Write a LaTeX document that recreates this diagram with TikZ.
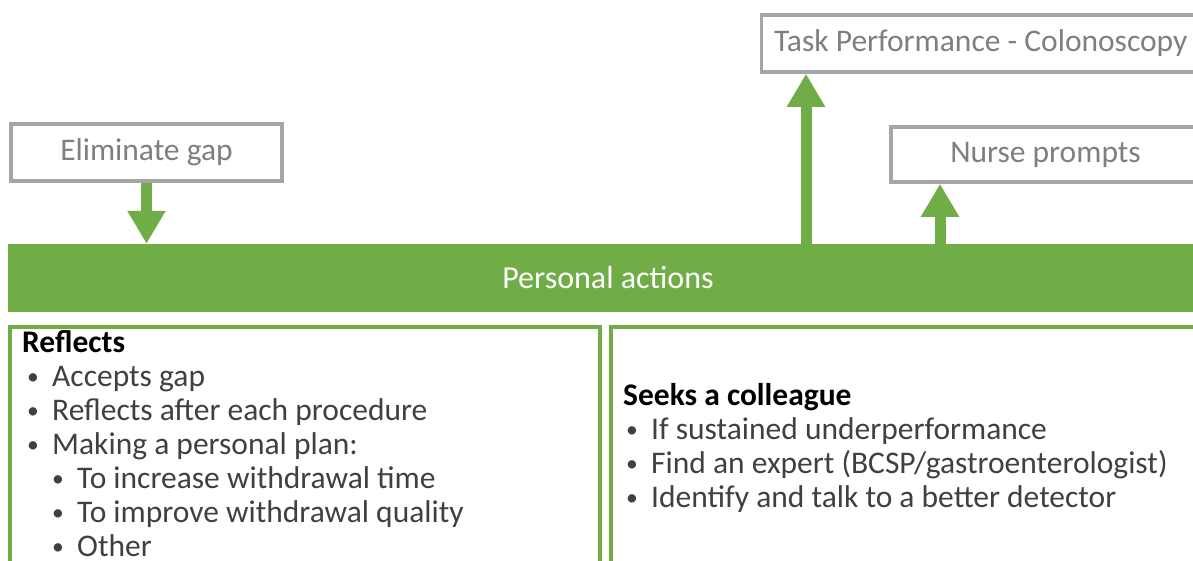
\documentclass[tikz,border=0pt]{standalone}
\usepackage{fontspec}
\setmainfont{Carlito}
\usetikzlibrary{arrows.meta}
\definecolor{leaf}{HTML}{70AD47}
\definecolor{frame}{HTML}{A5A5A5}
\definecolor{labelgray}{HTML}{7F7F7F}
\definecolor{bodygray}{HTML}{404040}
% bullet marks for the two list levels
\newcommand\dotmark{\raisebox{2pt}{\scalebox{0.75}{•}}}
\newcommand\itm[1]{\hspace*{5pt}\makebox[25pt][l]{\dotmark}#1}
\newcommand\subitm[1]{\hspace*{30pt}\makebox[25pt][l]{\dotmark}#1}
\tikzset{
  txt/.style={font=\fontsize{31.5}{34}\selectfont},
  graybox/.style={txt, draw=frame, line width=3.5pt, fill=white, text=labelgray, inner sep=0pt},
  greenbox/.style={draw=leaf, line width=3.5pt, inner sep=0pt},
  bar/.style={font=\fontsize{32}{34}\selectfont, fill=leaf, text=white, inner sep=0pt},
  fat/.style={draw=leaf, line width=11pt, -{Triangle[width=36pt,length=33pt]}},
  listtext/.style={inner sep=0pt, anchor=base west, text=bodygray}
}
\begin{document}
\begin{tikzpicture}[x=1pt,y=-1pt]
\useasboundingbox (0,0) rectangle (1193,560);
\clip (0,0) rectangle (1193,560);
\fill[white] (0,0) rectangle (1193,560);

% upper boxes
\node[graybox, minimum width=438.5pt, minimum height=57pt] (task) at (980.75,43.5) {Task Performance - Colonoscopy};
\node[graybox, minimum width=271pt, minimum height=57pt] (elim) at (146.5,152.5) {Eliminate gap};
\node[graybox, minimum width=309pt, minimum height=55pt] (nurse) at (1045.5,154.5) {Nurse prompts};

% central bar
\node[bar, minimum width=1200pt, minimum height=68pt] (actions) at (608,278) {Personal actions};

% lower boxes
\node[greenbox, minimum width=590pt, minimum height=300pt] (left) at (305,477) {};
\node[greenbox, minimum width=600pt, minimum height=300pt] (right) at (911,477) {};

% connectors
\draw[fat] (elim.south) -- (elim.south |- actions.north);
\draw[fat] (806,0 |- actions.north) -- (806,0 |- task.south);
\draw[fat] (940,0 |- actions.north) -- (940,0 |- nurse.south);

% lists
\node[listtext] (reflects) at (22,352) {\vtop{\hsize=570pt\parindent=0pt
  \fontsize{31.5}{34.1}\selectfont
  \leavevmode{\color{black}\bfseries Reflects}\par
  \itm{Accepts gap}\par
  \itm{Reflects after each procedure}\par
  \itm{Making a personal plan:}\par
  \subitm{To increase withdrawal time}\par
  \subitm{To improve withdrawal quality}\par
  \subitm{Other}}};
\node[listtext] (seeks) at (623,405) {\vtop{\hsize=570pt\parindent=0pt
  \fontsize{31.5}{34.1}\selectfont
  \leavevmode{\color{black}\bfseries Seeks a colleague}\par
  \hspace*{-2pt}\itm{If sustained underperformance}\par
  \hspace*{-2pt}\itm{Find an expert (BCSP/gastroenterologist)}\par
  \hspace*{-2pt}\itm{Identify and talk to a better detector}}};
\end{tikzpicture}
\end{document}
